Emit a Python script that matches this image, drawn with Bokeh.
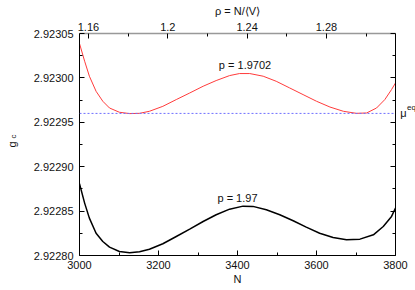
import numpy as np
from bokeh.plotting import figure
from bokeh.models import (Range1d, LinearAxis, FixedTicker, Span, Label, PrintfTickFormatter,
                          CustomJSTickFormatter)
from bokeh.embed import file_html
from bokeh.resources import INLINE

# ---- data ----
N_red = [3000, 3013, 3025, 3042, 3059, 3076, 3101, 3127, 3152, 3177, 3211, 3245, 3279, 3313, 3346, 3380,
         3405, 3431, 3465, 3498, 3532, 3566, 3600, 3634, 3668, 3701, 3727, 3752, 3773, 3790, 3800]
g_red = [2.9230387, 2.9230188, 2.9230019, 2.9229849, 2.9229737, 2.9229661, 2.9229613, 2.9229598, 2.9229601,
         2.9229624, 2.9229680, 2.9229756, 2.9229830, 2.9229906, 2.9229970, 2.9230026, 2.9230049, 2.9230049,
         2.9230019, 2.9229962, 2.9229887, 2.9229812, 2.9229737, 2.9229672, 2.9229624, 2.9229601, 2.9229605,
         2.9229661, 2.9229756, 2.9229869, 2.9229943]
N_black = [3000, 3013, 3025, 3042, 3059, 3076, 3101, 3127, 3152, 3177, 3211, 3245, 3279, 3313, 3346, 3380,
           3414, 3439, 3473, 3507, 3541, 3574, 3608, 3642, 3676, 3710, 3744, 3769, 3790, 3800]
g_black = [2.9228809, 2.9228590, 2.9228421, 2.9228251, 2.9228158, 2.9228094, 2.9228045, 2.9228030, 2.9228042,
           2.9228071, 2.9228132, 2.9228214, 2.9228297, 2.9228383, 2.9228459, 2.9228522, 2.9228556, 2.9228553,
           2.9228515, 2.9228459, 2.9228391, 2.9228319, 2.9228251, 2.9228203, 2.9228177, 2.9228184, 2.9228233,
           2.9228327, 2.9228440, 2.9228533]
mu_eq = 2.92296
label_red = "p = 1.9702"
label_black = "p = 1.97"

x_range = (3000, 3800)
y_range = (2.92280, 2.92305)
rho_range = (1.1555, 1.3148)
x_ticks = [3000, 3200, 3400, 3600, 3800]
x_minor = [3100, 3300, 3500, 3700]
y_ticks = [2.92280, 2.92285, 2.92290, 2.92295, 2.92300, 2.92305]
y_minor = [2.922825, 2.922875, 2.922925, 2.922975, 2.923025]
rho_ticks = [1.16, 1.2, 1.24, 1.28]
rho_minor = [1.18, 1.22, 1.26, 1.30]

FONT = "Liberation Sans"
FS = "11px"
TXT = "#111111"

p = figure(frame_width=316, frame_height=222,
           x_range=Range1d(*x_range), y_range=Range1d(*y_range),
           output_backend="svg", toolbar_location=None,
           x_axis_location=None, y_axis_location=None,
           min_border_left=79, min_border_right=20, min_border_top=33, min_border_bottom=35)
p.extra_x_ranges = {"rho": Range1d(*rho_range)}
p.grid.visible = False
p.outline_line_color = None
p.background_fill_color = "white"
p.border_fill_color = "white"


def style(ax):
    ax.major_tick_in = 5
    ax.major_tick_out = 0
    ax.minor_tick_in = 3
    ax.minor_tick_out = 0
    ax.axis_line_color = "black"
    ax.major_tick_line_color = "black"
    ax.minor_tick_line_color = "black"
    ax.major_label_text_font = FONT
    ax.major_label_text_font_size = FS
    ax.major_label_text_color = TXT
    ax.axis_label_text_font = FONT
    ax.axis_label_text_font_size = FS
    ax.axis_label_text_font_style = "normal"
    ax.axis_label_text_color = TXT


bottom = LinearAxis(ticker=FixedTicker(ticks=x_ticks, minor_ticks=x_minor), axis_label="N")
style(bottom)
bottom.major_label_standoff = 5
bottom.axis_label_standoff = 1
p.add_layout(bottom, "below")

left = LinearAxis(ticker=FixedTicker(ticks=y_ticks, minor_ticks=y_minor),
                  formatter=PrintfTickFormatter(format="%.5f"))
style(left)
left.major_label_standoff = 6
p.add_layout(left, "left")

right = LinearAxis(ticker=FixedTicker(ticks=y_ticks, minor_ticks=y_minor),
                   formatter=CustomJSTickFormatter(code="return ''"))
style(right)
right.major_label_standoff = 0
p.add_layout(right, "right")

top = LinearAxis(x_range_name="rho", ticker=FixedTicker(ticks=rho_ticks, minor_ticks=rho_minor),
                 formatter=PrintfTickFormatter(format="%g"), axis_label="ρ = N/⟨V⟩")
style(top)
top.axis_line_color = "#999999"
top.axis_line_width = 1.5
top.major_label_standoff = 3
top.axis_label_standoff = 3
p.add_layout(top, "above")

p.add_layout(Span(location=mu_eq, dimension="width", line_color="#6f6fff",
                  line_dash="2 2", line_width=1))

p.line(N_red, g_red, line_color="#ff3b3b", line_width=1)
p.line(N_black, g_black, line_color="black", line_width=1.5)

p.add_layout(Label(x=3419, y=2.9230143, text=label_red, text_align="center", text_baseline="middle",
                   text_font=FONT, text_font_size=FS, text_color=TXT))
p.add_layout(Label(x=3400, y=2.9228648, text=label_black, text_align="center", text_baseline="middle",
                   text_font=FONT, text_font_size=FS, text_color=TXT))

# right-hand label mu^eq (placed in the right side panel so it is not clipped by the frame)
p.add_layout(Label(x=3812, y=mu_eq, text="μ", text_align="left", text_baseline="middle",
                   text_font=FONT, text_font_size=FS, text_color=TXT), "right")
p.add_layout(Label(x=3829, y=2.9229665, text="eq", text_align="left", text_baseline="middle",
                   text_font=FONT, text_font_size="8px", text_color=TXT), "right")

# left label g_c (rotated)
p.add_layout(Label(x=2829, y=2.922925, text="g", angle=np.pi / 2, text_align="center", text_baseline="middle",
                   text_font=FONT, text_font_size=FS, text_color=TXT), "left")
p.add_layout(Label(x=2834, y=2.922934, text="c", angle=np.pi / 2, text_align="center", text_baseline="middle",
                   text_font=FONT, text_font_size="8px", text_color=TXT), "left")

open("out.html", "w").write(file_html(p, INLINE))
